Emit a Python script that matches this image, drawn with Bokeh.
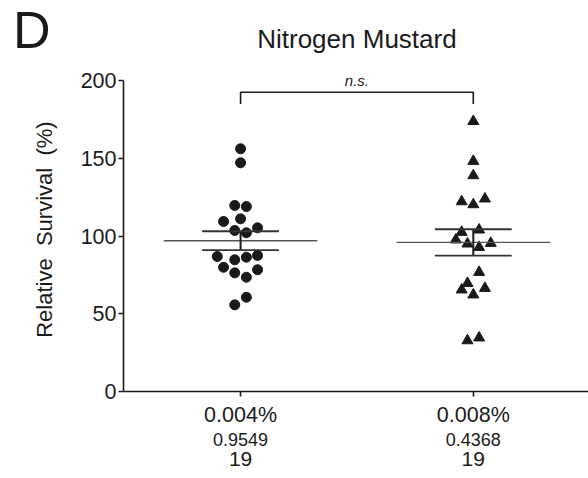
from bokeh.plotting import figure
from bokeh.models import Range1d, FixedTicker, Label, LinearAxis
from bokeh.embed import file_html
from bokeh.resources import INLINE
import numpy as np

# Relative survival (%) per replicate, two nitrogen mustard doses
groups = ["0.004%", "0.008%"]
p_values = ["0.9549", "0.4368"]
n_values = ["19", "19"]

survival_low = [156.3, 147.3, 119.8, 119.1, 109.5, 111.2, 103.7, 102.2, 105.4,
                86.9, 84.8, 86.5, 87.6, 80.0, 76.4, 73.6, 78.4, 60.7, 55.8]
offsets_low = [0.0, 0.0, -0.025, 0.025, -0.073, 0.0, -0.025, 0.025, 0.073,
               -0.1, -0.025, 0.025, 0.073, -0.073, -0.025, 0.025, 0.073, 0.025, -0.025]

survival_high = [174.0, 148.3, 139.1, 122.3, 120.4, 124.1, 102.6, 104.1, 97.7,
                 95.1, 92.9, 95.5, 76.8, 69.7, 65.5, 66.5, 62.3, 32.8, 34.6]
offsets_high = [0.0, 0.0, 0.0, -0.05, 0.0, 0.05, -0.05, 0.025, -0.075,
                -0.025, 0.025, 0.075, 0.025, -0.025, -0.05, 0.05, 0.0, -0.025, 0.025]

title_text = "Nitrogen Mustard"
panel_letter = "D"
bracket_label = "n.s."

FONT = "Liberation Sans"
INK = "#1a1a1a"

p = figure(width=588, height=478, output_backend="svg", toolbar_location=None,
           x_range=Range1d(0.497, 2.495), y_range=Range1d(0, 251.8),
           min_border_left=123, min_border_right=0, min_border_top=0,
           min_border_bottom=87)
p.grid.visible = False
p.outline_line_color = None
p.background_fill_color = "white"
p.border_fill_color = "white"


def style_axis(ax, size):
    ax.axis_line_width = 1.6
    ax.axis_line_color = INK
    ax.major_tick_line_width = 1.6
    ax.major_tick_line_color = INK
    ax.major_tick_out = 5
    ax.major_tick_in = 0
    ax.minor_tick_line_color = None
    ax.major_label_text_font = FONT
    ax.major_label_text_font_size = size
    ax.major_label_text_color = INK


def bare_axis(ticks, labels, size, standoff):
    ax = LinearAxis(ticker=FixedTicker(ticks=ticks),
                    major_label_overrides=dict(zip(ticks, labels)))
    ax.axis_line_color = None
    ax.major_tick_line_color = None
    ax.minor_tick_line_color = None
    ax.major_tick_out = 0
    ax.major_tick_in = 0
    ax.major_label_standoff = standoff
    ax.major_label_text_font = FONT
    ax.major_label_text_font_size = size
    ax.major_label_text_color = INK
    return ax


style_axis(p.yaxis[0], "21.5px")
style_axis(p.xaxis[0], "21.5px")

p.yaxis.ticker = FixedTicker(ticks=[0, 50, 100, 150, 200])
p.yaxis.bounds = (0, 200)
p.yaxis.major_label_standoff = 2
# trailing padding keeps the label centred on the 0-200 span of the axis
p.yaxis.axis_label = "Relative\u00a0\u00a0Survival\u00a0\u00a0(%)" + "\u00a0" * 11
p.yaxis.axis_label_text_font = FONT
p.yaxis.axis_label_text_font_style = "normal"
p.yaxis.axis_label_text_font_size = "22px"
p.yaxis.axis_label_text_color = INK
p.yaxis.axis_label_standoff = 21

p.xaxis.ticker = FixedTicker(ticks=[1, 2])
p.xaxis.major_label_overrides = {1: groups[0], 2: groups[1]}
p.xaxis.major_label_standoff = 6

# rows of p-values and counts under each group
p.add_layout(bare_axis([1, 2], p_values, "18px", 3), "below")
p.add_layout(bare_axis([1, 2], n_values, "21px", 3), "below")

# panel letter in the top-left corner
p.add_layout(bare_axis([233], [panel_letter], "52px", -22), "left")

# scatter points
xs_low = [1 + o for o in offsets_low]
xs_high = [2 + o for o in offsets_high]
p.scatter(xs_low, survival_low, marker="circle", size=10,
          fill_color=INK, line_color=INK)
p.scatter(xs_high, survival_high, marker="triangle", size=11,
          fill_color=INK, line_color=INK)

# mean and SEM bars
for cx, vals in ((1, survival_low), (2, survival_high)):
    arr = np.array(vals)
    mean = arr.mean()
    sem = arr.std(ddof=1) / np.sqrt(len(arr))
    p.segment(cx - 0.33, mean, cx + 0.33, mean, line_color="#555555", line_width=1.4)
    p.segment(cx, mean - sem, cx, mean + sem, line_color=INK, line_width=2)
    for yv in (mean - sem, mean + sem):
        p.segment(cx - 0.165, yv, cx + 0.165, yv, line_color="#333333", line_width=1.8)

# significance bracket
p.line([1, 1, 2, 2], [185.2, 192.7, 192.7, 185.2], line_color=INK, line_width=1.6)
p.add_layout(Label(x=1.5, y=194.5, text=bracket_label, text_align="center",
                   text_baseline="bottom", text_font=FONT, text_font_style="italic",
                   text_font_size="15px", text_color=INK))

# title
p.add_layout(Label(x=1.5, y=226.7, text=title_text, text_align="center",
                   text_baseline="alphabetic", text_font=FONT,
                   text_font_size="26px", text_color=INK))

open("out.html", "w").write(file_html(p, INLINE))
